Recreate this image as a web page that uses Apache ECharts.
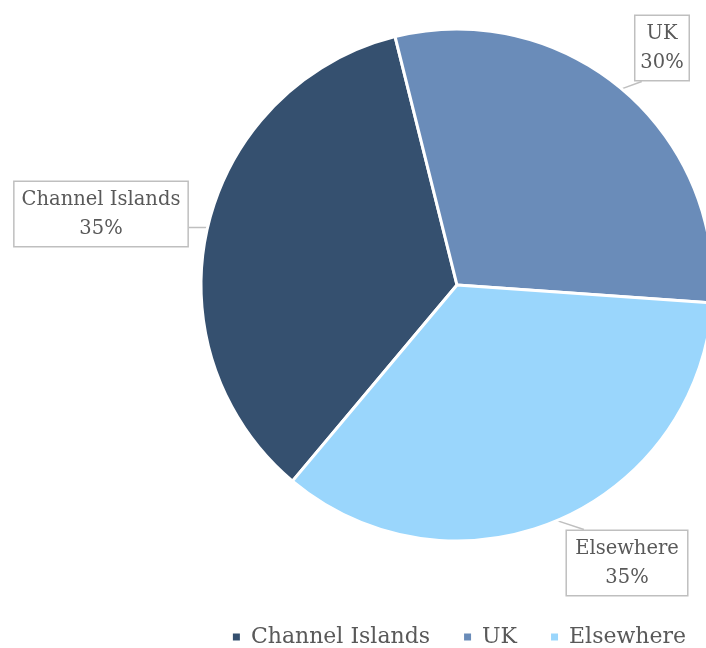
<!DOCTYPE html>
<html>
<head>
<meta charset="utf-8">
<script src="https://cdn.jsdelivr.net/npm/echarts@6/dist/echarts.min.js"></script>
<style>
  html, body { margin: 0; padding: 0; background: #fff; }
  #chart { width: 706px; height: 648px; }
</style>
</head>
<body>
<div id="chart"></div>
<script>
// Share of respondents by location (percent)
const categories = ['Channel Islands', 'UK', 'Elsewhere'];
const shares = [35, 30, 35];
const sliceColors = ['#35506f', '#6a8cb9', '#9ad6fc'];

// Callout boxes: centre, side padding, and where the pointer leaves the box
const calloutCentres = [[101, 214], [662, 48], [627, 563]];
const calloutSidePad = [10, 13, 11];
const pointerAnchors = [[1, 0.7], [0.15, 1], [0.15, 0]]; // fraction of box width / height

const FONT = '"DejaVu Serif", "Liberation Serif", serif';

const chart = echarts.init(document.getElementById('chart'), null, { renderer: 'canvas' });

chart.setOption({
  animation: false,
  color: sliceColors,
  legend: {
    data: categories,
    top: 621,
    right: 15,
    icon: 'rect',
    itemWidth: 9,
    itemHeight: 9,
    itemGap: 32,
    textStyle: { fontFamily: FONT, fontSize: 22, color: '#595959', padding: [0, 0, 0, 5] }
  },
  series: [{
    type: 'pie',
    center: [457, 285],
    radius: 256,
    startAngle: 230,
    clockwise: true,
    itemStyle: { borderColor: '#ffffff', borderWidth: 3 },
    data: categories.map((name, i) => ({
      name,
      value: shares[i],
      label: { padding: [6, calloutSidePad[i], 0, calloutSidePad[i]] }
    })),
    label: {
      show: true,
      position: 'outside',
      overflow: 'none',
      formatter: '{b}\n{c}%',
      fontFamily: FONT,
      fontSize: 19.5,
      lineHeight: 29,
      color: '#595959',
      align: 'center',
      backgroundColor: '#ffffff',
      borderColor: '#bfbfbf',
      borderWidth: 1.5
    },
    labelLine: {
      show: true,
      length: 10,
      length2: 10,
      lineStyle: { color: '#bfbfbf', width: 1.5 }
    },
    labelLayout: function (params) {
      const c = calloutCentres[params.dataIndex];
      const a = pointerAnchors[params.dataIndex];
      const r = params.labelRect;
      const left = c[0] - r.width / 2;
      const top = c[1] - r.height / 2;
      const anchor = [left + a[0] * r.width, top + a[1] * r.height];
      const tip = params.labelLinePoints ? params.labelLinePoints[0] : anchor;
      return {
        x: c[0], y: c[1], align: 'center', verticalAlign: 'middle',
        labelLinePoints: [tip, anchor, anchor]
      };
    }
  }]
});
</script>
</body>
</html>
